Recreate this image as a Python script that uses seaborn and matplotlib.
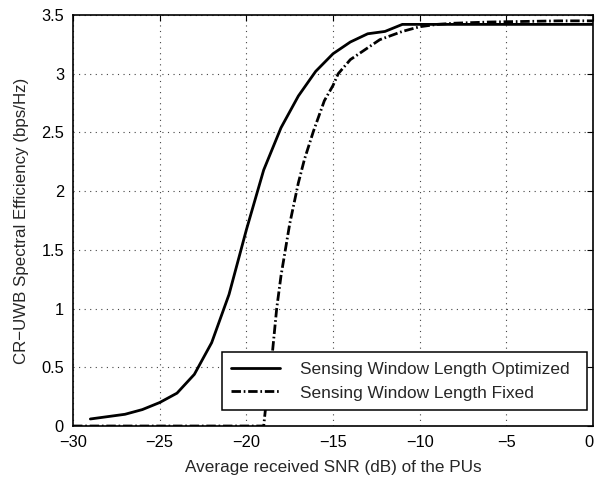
import numpy as np
import pandas as pd
import seaborn as sns
import matplotlib
matplotlib.use("Agg")
import matplotlib.pyplot as plt
import matplotlib.transforms as mtransforms

# Average received SNR of the PUs (dB) and spectral efficiency (bps/Hz)
snr_opt = [-29, -28, -27, -26, -25, -24, -23, -22, -21, -20, -19, -18, -17,
           -16, -15, -14, -13, -12, -11, -10, -9, -8, -7, -6, -5, -4, -3,
           -2, -1, 0]
se_opt = [0.06, 0.08, 0.10, 0.14, 0.20, 0.28, 0.44, 0.71, 1.12, 1.67, 2.18,
          2.54, 2.81, 3.02, 3.17, 3.27, 3.34, 3.36, 3.42, 3.42, 3.42, 3.42,
          3.42, 3.42, 3.42, 3.42, 3.42, 3.42, 3.42, 3.42]

snr_fix = [-30, -25, -20, -19.0, -18.75, -18.5, -18.25, -18.0, -17.75, -17.5,
           -17.0, -16.65, -16.13, -15.5, -15.0, -14.7, -14.0, -13.0, -12.3,
           -11.0, -10.0, -9.0, -8.0, -6.0, -4.0, -2.0, 0.0]
se_fix = [0.0, 0.0, 0.0, 0.0, 0.35, 0.62, 1.0, 1.28, 1.5, 1.72,
          2.07, 2.27, 2.51, 2.77, 2.90, 3.0, 3.12, 3.22, 3.29,
          3.36, 3.40, 3.42, 3.43, 3.44, 3.445, 3.45, 3.45]

label_opt = "Sensing Window Length Optimized"
label_fix = "Sensing Window Length Fixed"

x_ticks = [-30, -25, -20, -15, -10, -5, 0]
y_ticks = [0, 0.5, 1, 1.5, 2, 2.5, 3, 3.5]
y_tick_labels = ["0", "0.5", "1", "1.5", "2", "2.5", "3", "3.5"]

sns.set_style("white")
plt.rcParams["font.family"] = ["Liberation Sans", "DejaVu Sans"]
plt.rcParams["axes.unicode_minus"] = True

fig = plt.figure(figsize=(5.96, 4.79), dpi=100)
ax = fig.add_axes([0.1225, 0.1106, 0.8725, 0.8581])

df_opt = pd.DataFrame({"snr": snr_opt, "se": se_opt})
df_fix = pd.DataFrame({"snr": snr_fix, "se": se_fix})

sns.lineplot(data=df_opt, x="snr", y="se", ax=ax, color="black",
             linewidth=2.0, label=label_opt, estimator=None)
sns.lineplot(data=df_fix, x="snr", y="se", ax=ax, color="black",
             linewidth=2.0, linestyle=(0, (3.4, 1.0, 0.6, 1.0)),
             label=label_fix, estimator=None)

ax.set_xlim(-30, 0)
ax.set_ylim(0, 3.5)
ax.set_xticks(x_ticks)
ax.set_xticklabels(["\u2212" + str(abs(v)) if v < 0 else str(v) for v in x_ticks])
ax.set_yticks(y_ticks)
ax.set_yticklabels(y_tick_labels)

ax.grid(True, linestyle=(0, (1, 4)), color="#444444", linewidth=0.8)
ax.tick_params(direction="in", length=4, width=0.8, top=True, right=True,
               labelsize=11.8, colors="black")
ax.tick_params(axis="x", pad=6.2)
ax.tick_params(axis="y", pad=6.5)
for s in ax.spines.values():
    s.set_color("black")
    s.set_linewidth(1.2)

# keep the rightmost x tick label inside the figure
last = ax.get_xticklabels()[-1]
last.set_transform(last.get_transform() +
                   mtransforms.ScaledTranslation(-3 / 72, 0, fig.dpi_scale_trans))

ax.set_xlabel("Average received SNR (dB) of the PUs", fontsize=12.3, labelpad=7.5)
ax.set_ylabel("CR\u2212UWB Spectral Efficiency (bps/Hz)", fontsize=12.2, labelpad=8.5)

# legend box stretched across a fixed span in the lower right
leg = ax.legend(loc="lower left", bbox_to_anchor=(0.2865, 0.039, 0.702, 0.14),
                mode="expand", borderaxespad=0, fontsize=12.4,
                handlelength=2.8, frameon=True, fancybox=False,
                edgecolor="black", framealpha=1, borderpad=0.55,
                labelspacing=0.5, handletextpad=1.2)
leg.get_frame().set_linewidth(1.1)

fig.savefig("out.png", dpi=100)
